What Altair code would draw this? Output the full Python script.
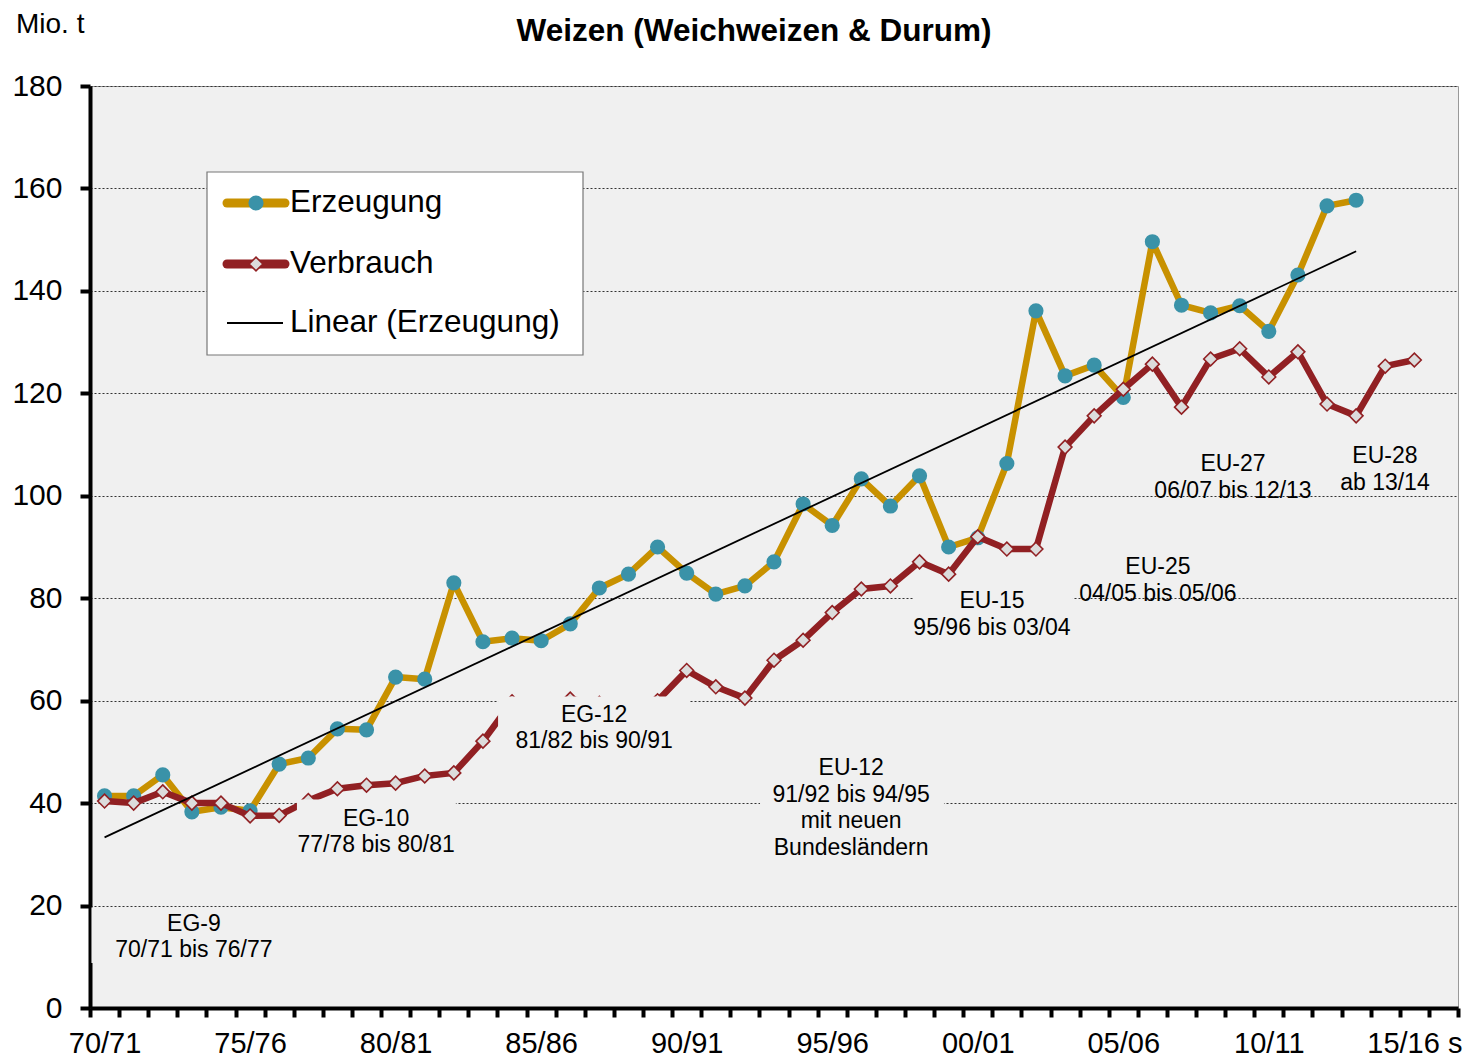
import json
import altair as alt
import pandas as pd

# ---------------- data ----------------
categories = ["70/71", "71/72", "72/73", "73/74", "74/75", "75/76", "76/77", "77/78", "78/79", "79/80",
              "80/81", "81/82", "82/83", "83/84", "84/85", "85/86", "86/87", "87/88", "88/89", "89/90",
              "90/91", "91/92", "92/93", "93/94", "94/95", "95/96", "96/97", "97/98", "98/99", "99/00",
              "00/01", "01/02", "02/03", "03/04", "04/05", "05/06", "06/07", "07/08", "08/09", "09/10",
              "10/11", "11/12", "12/13", "13/14", "14/15", "15/16", "16/17"]

erzeugung = [41.4, 41.4, 45.5, 38.3, 39.2, 38.5, 47.6, 48.8, 54.5, 54.3,
             64.6, 64.2, 83.0, 71.5, 72.2, 71.7, 75.0, 82.0, 84.7, 90.0,
             84.9, 80.8, 82.4, 87.1, 98.4, 94.2, 103.3, 98.0, 103.9, 90.0,
             91.8, 106.3, 136.1, 123.4, 125.5, 119.2, 149.6, 137.2, 135.7, 137.1,
             132.1, 143.1, 156.6, 157.7]

verbrauch = [40.4, 40.0, 42.2, 40.0, 40.0, 37.5, 37.6, 40.5, 42.8, 43.5,
             43.9, 45.3, 45.9, 52.1, 59.8, 59.0, 60.3, 59.5, 59.0, 60.0,
             65.9, 62.7, 60.5, 67.9, 71.8, 77.2, 81.8, 82.4, 87.1, 84.7,
             92.0, 89.6, 89.6, 109.5, 115.6, 120.8, 125.7, 117.3, 126.7, 128.7,
             123.2, 128.1, 117.9, 115.6, 125.3, 126.5]

tick_values = [0, 5, 10, 15, 20, 25, 30, 35, 40, 45]
tick_labels = ["70/71", "75/76", "80/81", "85/86", "90/91", "95/96", "00/01", "05/06", "10/11", "15/16 s"]

y_ticks = [0, 20, 40, 60, 80, 100, 120, 140, 160, 180]

legend_labels = ["Erzeugung", "Verbrauch", "Linear (Erzeugung)"]

# annotation texts (one row per line) and their anchor (category index, value)
annot_text = ["EG-9", "70/71 bis 76/77",
              "EG-10", "77/78 bis 80/81",
              "EG-12", "81/82 bis 90/91",
              "EU-12", "91/92 bis 94/95", "mit neuen", "Bundesländern",
              "EU-15", "95/96 bis 03/04",
              "EU-25", "04/05 bis 05/06",
              "EU-27", "06/07 bis 12/13",
              "EU-28", "ab 13/14"]
annot_x = [3.07, 3.07, 9.33, 9.33, 16.82, 16.82, 25.65, 25.65, 25.65, 25.65,
           30.49, 30.49, 36.19, 36.19, 38.77, 38.77, 43.99, 43.99]
annot_y = [16.4, 11.3, 36.9, 31.8, 57.2, 52.1, 46.9, 41.6, 36.5, 31.2,
           79.5, 74.2, 86.1, 80.8, 106.2, 100.9, 107.8, 102.5]

# text-box backgrounds (category index / value units)
box_x1 = [-0.45, 6.61, 13.52, 22.52, 27.78]
box_x2 = [6.7, 12.07, 20.11, 28.84, 33.27]
box_y1 = [8.8, 28.5, 48.0, 28.0, 70.0]
box_y2 = [19.6, 40.7, 60.8, 50.5, 81.5]

# ---------------- styles ----------------
FONT = "Liberation Sans"
GOLD = "#C89100"
TEAL = "#3A92A8"
RED = "#912023"
BG = "#F0F0F0"

df_e = pd.DataFrame({"idx": list(range(len(erzeugung))), "jahr": categories[:len(erzeugung)], "wert": erzeugung})
df_v = pd.DataFrame({"idx": list(range(len(verbrauch))), "jahr": categories[:len(verbrauch)], "wert": verbrauch})
df_annot = pd.DataFrame({"x": annot_x, "y": annot_y, "t": annot_text})
df_box = pd.DataFrame({"x1": box_x1, "x2": box_x2, "y1": box_y1, "y2": box_y2})

n_cat = len(categories)
boundaries = [i - 0.5 for i in range(n_cat + 1)]
x_values = sorted(boundaries + tick_values)
label_arr = json.dumps(tick_labels).replace('"', "'")
label_expr = f"datum.value % 5 == 0 ? {label_arr}[datum.value / 5] : ''"

x_scale = alt.Scale(domain=[-0.5, n_cat - 0.5], nice=False, zero=False)
y_scale = alt.Scale(domain=[0, 180], nice=False, zero=True)

x_axis = alt.Axis(values=x_values, labelExpr=label_expr, title=None, grid=False,
                  tickSize=9, tickWidth=4, tickColor="black",
                  tickOpacity={"condition": {"test": "datum.value % 1 == 0", "value": 0}, "value": 1},
                  domainColor="black", domainWidth=4,
                  labelFont=FONT, labelFontSize=29, labelColor="black",
                  labelPadding=12, labelOverlap=False, labelFlush=False, labelBaseline="top")
y_axis = alt.Axis(values=y_ticks, title=None, grid=True, gridColor="#333", gridDash=[2, 2], gridWidth=1,
                  tickSize=10, tickWidth=4, tickColor="black",
                  domainColor="black", domainWidth=4,
                  labelFont=FONT, labelFontSize=30, labelColor="black", labelPadding=18)


def X(field):
    return alt.X(field, type="quantitative", scale=x_scale, axis=x_axis)


def Y(field):
    return alt.Y(field, type="quantitative", scale=y_scale, axis=y_axis)


one = alt.Data(values=[{}])

e_line = alt.Chart(df_e).mark_line(color=GOLD, strokeWidth=6.5, strokeJoin="round").encode(x=X("idx"), y=Y("wert"))
e_pts = alt.Chart(df_e).mark_point(shape="circle", filled=True, color=TEAL, size=230, opacity=1).encode(x=X("idx"), y=Y("wert"))
v_line = alt.Chart(df_v).mark_line(color=RED, strokeWidth=6.5, strokeJoin="round").encode(x=X("idx"), y=Y("wert"))
v_pts = alt.Chart(df_v).mark_point(shape="diamond", filled=True, fill="#DCDCDC", stroke=RED, strokeWidth=1.6,
                                   size=190, opacity=1).encode(x=X("idx"), y=Y("wert"))
trend = (alt.Chart(df_e).transform_regression("idx", "wert", method="linear")
         .mark_line(color="black", strokeWidth=1.8).encode(x=X("idx"), y=Y("wert")))

boxes = alt.Chart(df_box).mark_rect(fill=BG).encode(x=X("x1"), x2="x2", y=Y("y1"), y2="y2")
annots = alt.Chart(df_annot).mark_text(font=FONT, fontSize=23, color="black", align="center",
                                       baseline="middle").encode(x=X("x"), y=Y("y"), text="t")

# title and unit label
title = alt.Chart(one).mark_text(font=FONT, fontSize=31.5, fontWeight="bold", color="black", align="center",
                                 baseline="middle").encode(x=alt.value(664), y=alt.value(-54),
                                                          text=alt.value("Weizen (Weichweizen & Durum)"))
unit = alt.Chart(one).mark_text(font=FONT, fontSize=28, color="black", align="left",
                                baseline="middle").encode(x=alt.value(-74), y=alt.value(-61), text=alt.value("Mio. t"))

# legend
leg_box = alt.Chart(one).mark_rect(fill="white", stroke="#777", strokeWidth=1.2).encode(
    x=alt.value(117), x2=alt.value(493), y=alt.value(86), y2=alt.value(269))
leg_rows = [117, 178, 237]
leg_layers = [leg_box]
leg_layers.append(alt.Chart(one).mark_rule(color=GOLD, strokeWidth=9, strokeCap="round").encode(
    x=alt.value(137), x2=alt.value(195), y=alt.value(leg_rows[0])))
leg_layers.append(alt.Chart(one).mark_point(shape="circle", filled=True, color=TEAL, size=230, opacity=1).encode(
    x=alt.value(166), y=alt.value(leg_rows[0])))
leg_layers.append(alt.Chart(one).mark_rule(color=RED, strokeWidth=9, strokeCap="round").encode(
    x=alt.value(137), x2=alt.value(195), y=alt.value(leg_rows[1])))
leg_layers.append(alt.Chart(one).mark_point(shape="diamond", filled=True, fill="#DCDCDC", stroke=RED, strokeWidth=1.6,
                                            size=190, opacity=1).encode(x=alt.value(166), y=alt.value(leg_rows[1])))
leg_layers.append(alt.Chart(one).mark_rule(color="black", strokeWidth=1.8).encode(
    x=alt.value(137), x2=alt.value(193), y=alt.value(leg_rows[2])))
for lab, yy in zip(legend_labels, leg_rows):
    leg_layers.append(alt.Chart(one).mark_text(font=FONT, fontSize=31.5, color="black", align="left",
                                               baseline="middle").encode(x=alt.value(200), y=alt.value(yy),
                                                                          text=alt.value(lab)))

chart = alt.layer(e_line, e_pts, v_line, v_pts, trend, boxes, annots, title, unit, *leg_layers).properties(
    width=1368, height=922,
    autosize=alt.AutoSizeParams(type="none"),
    padding={"left": 82, "top": 78, "right": 12, "bottom": 53},
    background="white",
).configure_view(fill=BG, stroke="#999", strokeWidth=1)

chart.save("out.html", embed_options={"renderer": "svg", "actions": False})
